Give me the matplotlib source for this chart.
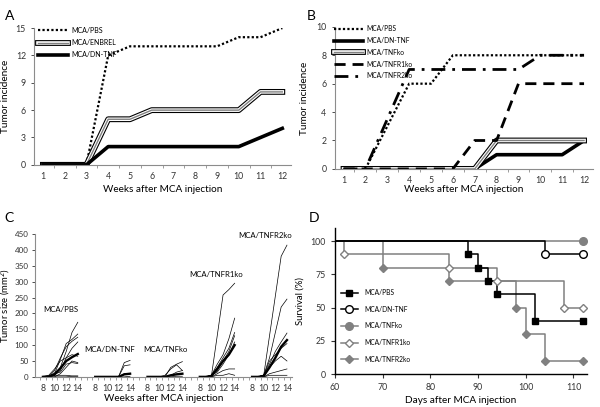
import matplotlib
matplotlib.use("Agg")
import matplotlib.pyplot as plt
import matplotlib.patheffects as pe
from matplotlib.lines import Line2D

plt.rcParams['font.family'] = ['Lato', 'DejaVu Sans']

# ---- panel A: tumor incidence, weeks 1..12
WEEKS = list(range(1, 13))
A_PBS = [0, 0, 0, 12, 13, 13, 13, 13, 13, 14, 14, 15]
A_ENBREL = [0, 0, 0, 5, 5, 6, 6, 6, 6, 6, 8, 8]
A_DNTNF = [0, 0, 0, 2, 2, 2, 2, 2, 2, 2, 3, 4]

# ---- panel B
B_PBS = [0, 0, 3, 6, 6, 8, 8, 8, 8, 8, 8, 8]
B_DNTNF = [0, 0, 0, 0, 0, 0, 0, 1, 1, 1, 1, 2]
B_TNFKO = [0, 0, 0, 0, 0, 0, 0, 2, 2, 2, 2, 2]
B_TNFR1KO = [0, 0, 0, 0, 0, 0, 2, 2, 6, 6, 6, 6]
B_TNFR2KO = [0, 0, 3.5, 7, 7, 7, 7, 7, 7, 8, 8, 8]

# ---- panel C: tumor size per mouse, weeks 8..14
C_WEEKS = [8, 9, 10, 11, 12, 13, 14]
C_GROUPS = ['MCA/PBS', 'MCA/DN-TNF', 'MCA/TNFko', 'MCA/TNFR1ko', 'MCA/TNFR2ko']
C_PBS = [[0, 0, 5, 30, 80, 140, 172],
         [0, 2, 10, 55, 105, 118, 135],
         [0, 0, 20, 60, 95, 112, 125],
         [0, 5, 25, 50, 60, 90, 110],
         [0, 0, 5, 20, 60, 70, 65],
         [0, 0, 0, 10, 30, 50, 45],
         [0, 0, 10, 15, 40, 45, 42],
         [0, 0, 0, 0, 0, 2, 2],
         [2, 3, 5, 5, 5, 3, 3]]
C_PBS_MEAN = [0, 1, 9, 27, 50, 62, 72]
C_DNTNF = [[0, 0, 0, 0, 0, 45, 52],
           [0, 0, 0, 0, 0, 35, 38],
           [0, 0, 0, 0, 0, 10, 10],
           [0, 0, 0, 0, 0, 0, 2]]
C_DNTNF_MEAN = [0, 0, 0, 0, 0, 8, 10]
C_TNFKO = [[0, 0, 0, 0, 30, 40, 48],
           [0, 0, 0, 5, 25, 38, 20],
           [0, 0, 0, 0, 5, 15, 20],
           [0, 0, 0, 0, 0, 2, 2]]
C_TNFKO_MEAN = [0, 0, 0, 0, 5, 8, 10]
C_TNFR1KO = [[0, 0, 3, 130, 258, 275, 295],
             [0, 0, 5, 40, 70, 120, 185],
             [0, 0, 5, 30, 60, 90, 140],
             [0, 0, 5, 20, 50, 80, 130],
             [0, 0, 5, 15, 40, 70, 110],
             [0, 0, 0, 10, 20, 25, 25],
             [0, 0, 0, 5, 5, 10, 5]]
C_TNFR1KO_MEAN = [0, 0, 3, 25, 50, 70, 100]
C_TNFR2KO = [[0, 0, 5, 130, 255, 380, 415],
             [0, 0, 5, 60, 140, 220, 245],
             [0, 0, 5, 40, 80, 110, 138],
             [0, 0, 5, 50, 70, 90, 105],
             [0, 0, 5, 30, 50, 65, 50],
             [0, 0, 0, 10, 15, 20, 25],
             [0, 0, 0, 5, 5, 5, 5]]
C_TNFR2KO_MEAN = [0, 0, 3, 30, 60, 95, 116]
C_LABEL_POS = [(3.1, 200), (2.4, 75), (3.0, 75), (2.8, 310), (2.3, 435)]

# ---- panel D: Kaplan-Meier survival
D_PBS_T = [0, 88, 90, 92, 94, 102, 112]
D_PBS_S = [100, 90, 80, 70, 60, 40, 40]
D_DNTNF_T = [0, 104, 112]
D_DNTNF_S = [100, 90, 90]
D_TNFKO_T = [0, 112]
D_TNFKO_S = [100, 100]
D_TNFR1KO_T = [0, 62, 84, 94, 108, 112]
D_TNFR1KO_S = [100, 90, 80, 70, 50, 50]
D_TNFR2KO_T = [0, 70, 84, 98, 100, 104, 112]
D_TNFR2KO_S = [100, 80, 70, 50, 30, 10, 10]

GRAY = '#808080'
AX_GRAY = '#8c8c8c'
TICK_FS = 6.3
LAB_FS = 7.2

double_line = [pe.Stroke(linewidth=4.2, foreground='black'),
               pe.Stroke(linewidth=2.6, foreground='white'),
               pe.Normal()]


def excel_axes(ax):
    for s in ['top', 'right']:
        ax.spines[s].set_visible(False)
    for s in ['left', 'bottom']:
        ax.spines[s].set_color(AX_GRAY)
        ax.spines[s].set_linewidth(0.8)
    ax.tick_params(axis='both', labelsize=TICK_FS, colors='#333333', length=2.5, width=0.6)
    ax.tick_params(axis='x', length=0, pad=5)
    ax.tick_params(which='minor', axis='x', length=2.5, width=0.6, color=AX_GRAY)


fig = plt.figure(figsize=(6.0, 4.07), dpi=100)

# ----- A
axA = fig.add_axes([0.057, 0.595, 0.428, 0.336])
axA.plot(WEEKS, A_PBS, color='black', lw=1.6, linestyle=(0, (1, 1)), label='MCA/PBS')
axA.plot(WEEKS, A_ENBREL, color=GRAY, lw=1.0, path_effects=double_line, label='MCA/ENBREL')
axA.plot(WEEKS, A_DNTNF, color='black', lw=2.6, label='MCA/DN-TNF')
axA.set_xlim(0.6, 12.4)
axA.set_ylim(0, 15)
axA.set_xticks(WEEKS)
axA.set_xticks([w + 0.5 for w in WEEKS[:-1]], minor=True)
axA.set_yticks(range(0, 16, 3))
excel_axes(axA)
axA.set_ylabel('Tumor incidence', fontsize=LAB_FS, labelpad=4)
axA.set_xlabel('Weeks after MCA injection', fontsize=LAB_FS, labelpad=3)
axA.legend(loc='upper left', bbox_to_anchor=(0.0, 1.04), fontsize=5.0, frameon=False,
           handlelength=4.2, handletextpad=0.5, labelspacing=0.75, borderaxespad=0.2)

# ----- B
axB = fig.add_axes([0.558, 0.585, 0.43, 0.349])
axB.plot(WEEKS, B_PBS, color='black', lw=1.6, linestyle=(0, (1, 1)), label='MCA/PBS')
axB.plot(WEEKS, B_DNTNF, color='black', lw=2.6, label='MCA/DN-TNF')
axB.plot(WEEKS, B_TNFKO, color=GRAY, lw=1.0, path_effects=double_line, label='MCA/TNFko')
axB.plot(WEEKS, B_TNFR1KO, color='black', lw=2.0, linestyle=(0, (4, 2.5)), label='MCA/TNFR1ko')
axB.plot(WEEKS, B_TNFR2KO, color='black', lw=2.0, linestyle=(0, (5, 2.5, 1, 2.5)), label='MCA/TNFR2ko')
axB.set_xlim(0.6, 12.4)
axB.set_ylim(0, 10)
axB.set_xticks(WEEKS)
axB.set_xticks([w + 0.5 for w in WEEKS[:-1]], minor=True)
axB.set_yticks(range(0, 11, 2))
excel_axes(axB)
axB.set_ylabel('Tumor incidence', fontsize=LAB_FS, labelpad=5)
axB.set_xlabel('Weeks after MCA injection', fontsize=LAB_FS, labelpad=0)
axB.legend(loc='upper left', bbox_to_anchor=(-0.02, 1.04), fontsize=4.8, frameon=False,
           handlelength=4.4, handletextpad=0.5, labelspacing=0.72, borderaxespad=0.2)

# ----- C
axC = fig.add_axes([0.058, 0.074, 0.429, 0.351])
PERIOD = 9
groups = [(C_PBS, C_PBS_MEAN), (C_DNTNF, C_DNTNF_MEAN), (C_TNFKO, C_TNFKO_MEAN),
          (C_TNFR1KO, C_TNFR1KO_MEAN), (C_TNFR2KO, C_TNFR2KO_MEAN)]
ticks, labels = [], []
for g, (mice, mean) in enumerate(groups):
    xs = [g * PERIOD + (w - C_WEEKS[0]) for w in C_WEEKS]
    for m in mice:
        axC.plot(xs, m, color='black', lw=0.5)
    axC.plot(xs, mean, color='black', lw=1.7)
    for w in [8, 10, 12, 14]:
        ticks.append(g * PERIOD + w - 8)
        labels.append(str(w))
    dx, dy = C_LABEL_POS[g]
    axC.text(g * PERIOD + dx, dy, C_GROUPS[g], ha='center', va='bottom', fontsize=5.6)
minors = [k + 0.5 for k in range(-1, 4 * PERIOD + 7)]
axC.set_xlim(-1.4, 4 * PERIOD + 6.9)
axC.set_ylim(0, 450)
axC.set_xticks(ticks)
axC.set_xticklabels(labels)
axC.set_xticks(minors, minor=True)
axC.set_yticks(range(0, 451, 50))
excel_axes(axC)
axC.tick_params(axis='y', labelsize=5.8, pad=2)
axC.set_ylabel('Tumor size (mm$^2$)', fontsize=6.8)
axC.yaxis.set_label_coords(-0.088, 0.5)
axC.set_xlabel('Weeks after MCA injection', fontsize=LAB_FS, labelpad=1)

# ----- D
axD = fig.add_axes([0.558, 0.081, 0.42, 0.359])
series = [
    (D_TNFKO_T, D_TNFKO_S, GRAY, 'o', GRAY, 'MCA/TNFko'),
    (D_TNFR1KO_T, D_TNFR1KO_S, GRAY, 'D', 'white', 'MCA/TNFR1ko'),
    (D_TNFR2KO_T, D_TNFR2KO_S, GRAY, 'D', GRAY, 'MCA/TNFR2ko'),
    (D_PBS_T, D_PBS_S, 'black', 's', 'black', 'MCA/PBS'),
    (D_DNTNF_T, D_DNTNF_S, 'black', 'o', 'white', 'MCA/DN-TNF'),
]


def marker_size(mk):
    return 5.5 if mk == 'o' else (4.2 if mk == 'D' else 4.8)


for t, s, c, mk, fc, lab in series:
    axD.plot(t, s, color=c, lw=1.1, drawstyle='steps-post')
for t, s, c, mk, fc, lab in series:
    axD.plot(t[1:], s[1:], linestyle='none', marker=mk, ms=marker_size(mk), mfc=fc, mec=c,
             mew=1.0, clip_on=False, zorder=5)
axD.set_xlim(60, 112.8)
axD.set_ylim(0, 110)
axD.set_xticks(range(60, 111, 10))
axD.set_yticks(range(0, 101, 25))
for s in ['top', 'right']:
    axD.spines[s].set_visible(False)
for s in ['left', 'bottom']:
    axD.spines[s].set_linewidth(1.0)
axD.tick_params(labelsize=TICK_FS, length=3, width=0.8, colors='#333333')
axD.set_ylabel('Survival (%)', fontsize=6.8, labelpad=4)
axD.set_xlabel('Days after MCA injection', fontsize=LAB_FS, labelpad=3)

handles = []
for i in [3, 4, 0, 1, 2]:
    t, s, c, mk, fc, lab = series[i]
    handles.append(Line2D([], [], color=c, lw=1.1, marker=mk, ms=marker_size(mk), mfc=fc, mec=c,
                          mew=1.0, label=lab))
axD.legend(handles=handles, loc='center left', bbox_to_anchor=(0.0, 0.33), fontsize=4.8,
           frameon=False, handlelength=2.6, handletextpad=1.0, labelspacing=1.45)

for letter, (x, y) in zip('ABCD', [(0.008, 0.975), (0.512, 0.975), (0.008, 0.48), (0.515, 0.48)]):
    fig.text(x, y, letter, fontsize=10, va='top', ha='left')

fig.savefig('out.png', dpi=100)
